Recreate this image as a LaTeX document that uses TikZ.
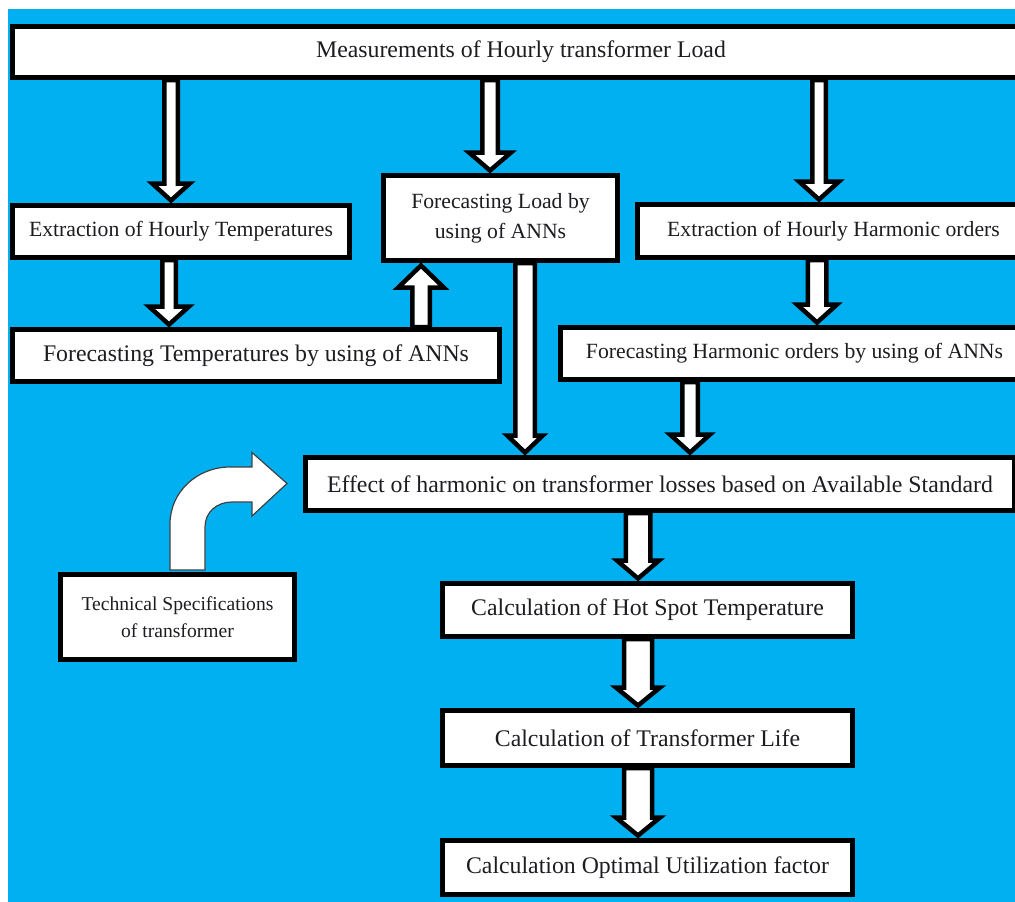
\documentclass[tikz,border=0pt]{standalone}
\usepackage{fontspec}
\setmainfont{Liberation Serif}
\usetikzlibrary{calc}
\definecolor{bgblue}{RGB}{0,176,240}
\definecolor{txt}{RGB}{30,28,32}
\newcommand\barrow[5]{%
  \draw[blockarrow] let \p1=#1, \p2=#2, \n1={sign(\y1-\y2)}, \p3=(\x2,{\y2+\n1*2.5pt}) in
   ({\x1-#3},\y1) -- ({\x1-#3},{\y3+\n1*#5}) -- ({\x1-#4},{\y3+\n1*#5}) -- (\x1,\y3)
   -- ({\x1+#4},{\y3+\n1*#5}) -- ({\x1+#3},{\y3+\n1*#5}) -- ({\x1+#3},\y1) -- cycle;}
\begin{document}
\begin{tikzpicture}[x=1pt,y=-1pt,
  box/.style={draw=black, line width=5pt, fill=white, inner sep=0pt, align=center, text=txt},
  big/.style={font=\fontsize{23.8}{30}\selectfont},
  mid/.style={font=\fontsize{21.7}{30}\selectfont},
  sml/.style={font=\fontsize{19.6}{27.5}\selectfont},
  blockarrow/.style={draw=black, line width=4.5pt, fill=white, line join=miter},
  bentarrow/.style={draw=black!75, line width=1.2pt, fill=white, line join=miter}]
\useasboundingbox (0,0) rectangle (1015,902);
\clip (0,0) rectangle (1015,902);
\fill[bgblue] (8,9) rectangle (1015,902);

% boxes
\node[box,big,minimum width=1017pt,minimum height=51pt] (meas) at (521,52) {Measurements of Hourly transformer Load};
\node[box,mid,minimum width=337pt,minimum height=52pt] (extT) at (181,231.5) {Extraction of Hourly Temperatures};
\node[box,big,minimum width=487pt,minimum height=52pt] (fcT) at (256,355.5) {Forecasting Temperatures by using of ANNs};
\node[box,mid,minimum width=234pt,minimum height=85pt] (fcL) at (500.5,218) {Forecasting Load by\\using of ANNs};
\node[box,mid,minimum width=392pt,minimum height=53pt] (extH) at (833.5,231) {Extraction of Hourly Harmonic orders};
\node[box,mid,minimum width=468pt,minimum height=52pt] (fcH) at (794.5,353.5) {Forecasting Harmonic orders by using of ANNs};
\node[box,big,minimum width=709pt,minimum height=53pt] (eff) at (660,484) {Effect of harmonic on transformer losses based on Available Standard};
\node[box,sml,minimum width=234pt,minimum height=85pt] (tech) at (177.5,617) {Technical Specifications\\of transformer};
\node[box,big,minimum width=410pt,minimum height=53pt] (hot) at (647.5,610) {Calculation of Hot Spot Temperature};
\node[box,big,minimum width=410pt,minimum height=55pt] (life) at (647.5,738) {Calculation of Transformer Life};
\node[box,big,minimum width=410pt,minimum height=54pt] (opt) at (647.5,867.5) {Calculation Optimal Utilization factor};

% arrow columns
\coordinate (c1) at (171,0);
\coordinate (c2) at (490,0);
\coordinate (c3) at (819,0);
\coordinate (c4) at (169,0);
\coordinate (c5) at (421,0);
\coordinate (c6) at (525,0);
\coordinate (c7) at (817,0);
\coordinate (c8) at (690,0);
\coordinate (c9) at (638,0);

\barrow{(meas.south -| c1)}{(extT.north -| c1)}{6.75pt}{18.75pt}{17pt}
\barrow{(meas.south -| c2)}{(fcL.north -| c2)}{7.75pt}{21pt}{18pt}
\barrow{(meas.south -| c3)}{(extH.north -| c3)}{6.75pt}{20pt}{18pt}
\barrow{(extT.south -| c4)}{(fcT.north -| c4)}{6.75pt}{20pt}{18pt}
\barrow{(fcT.north -| c5)}{(fcL.south -| c5)}{8.75pt}{22.75pt}{22pt}
\barrow{(fcL.south -| c6)}{(eff.north -| c6)}{9.75pt}{17.75pt}{17pt}
\barrow{(extH.south -| c7)}{(fcH.north -| c7)}{9.25pt}{20pt}{18pt}
\barrow{(fcH.south -| c8)}{(eff.north -| c8)}{7.75pt}{20pt}{18pt}
\barrow{(eff.south -| c9)}{(hot.north -| c9)}{12.25pt}{21pt}{18pt}
\barrow{(hot.south -| c9)}{(life.north -| c9)}{14pt}{22pt}{18pt}
\barrow{(life.south -| c9)}{(opt.north -| c9)}{14pt}{22pt}{18pt}

% bent arrow from technical specifications towards the losses box
\draw[bentarrow] (170,570) -- (170,524) .. controls (170,492) and (197,467) .. (230,467)
  -- (252,467) -- (252,452.5) -- (287,483.5) -- (252,516) -- (252,502) -- (232,502)
  .. controls (217,502) and (205,512) .. (205,527) -- (205,570) -- cycle;
\end{tikzpicture}
\end{document}
